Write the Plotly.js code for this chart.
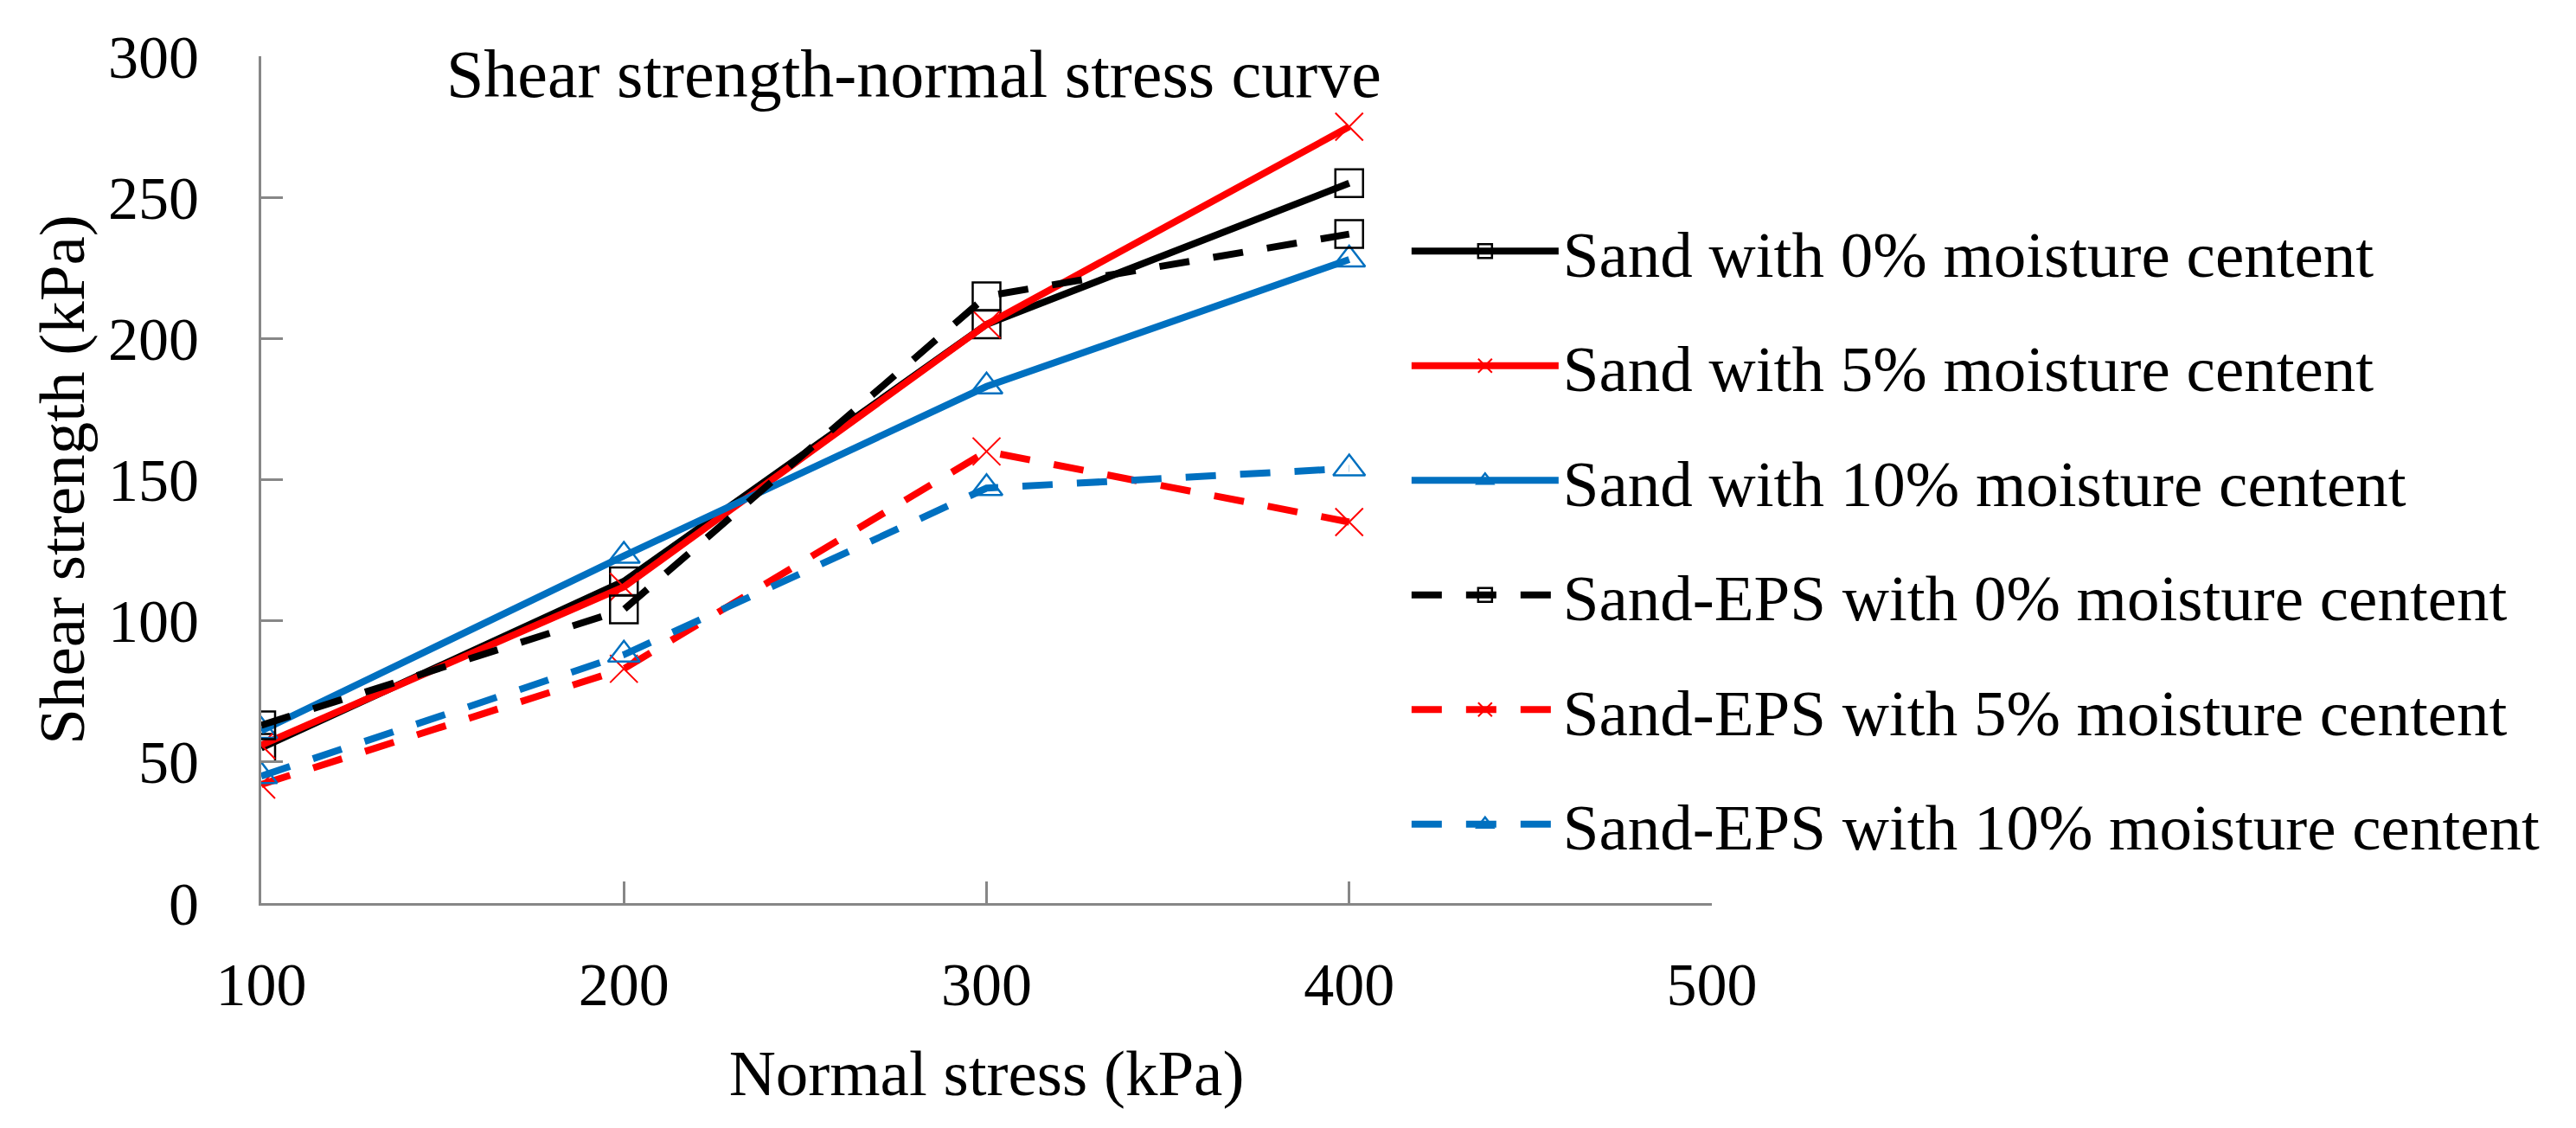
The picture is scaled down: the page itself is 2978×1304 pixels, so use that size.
<!DOCTYPE html>
<html>
<head>
<meta charset="utf-8">
<script src="https://cdn.plot.ly/plotly-3.0.1.min.js"></script>
<style>html,body{margin:0;padding:0;background:#fff;}#chart{width:2978px;height:1304px;}</style>
</head>
<body>
<div id="chart"></div>
<script>
const normalStress = [100, 200, 300, 400];
const sand0 = [55, 114, 205, 255];
const sand5 = [56, 112, 205, 275];
const sand10 = [61, 123, 183, 228];
const eps0 = [63, 104, 215, 237];
const eps5 = [42, 83, 160, 135];
const eps10 = [45, 88, 147, 154];
const seriesNames = [
  'Sand with 0% moisture centent',
  'Sand with 5% moisture centent',
  'Sand with 10% moisture centent',
  'Sand-EPS with 0% moisture centent',
  'Sand-EPS with 5% moisture centent',
  'Sand-EPS with 10% moisture centent'
];
const xTicks = [100, 200, 300, 400, 500];
const yTicks = [0, 50, 100, 150, 200, 250, 300];

const BLACK = '#000000', RED = '#FF0000', BLUE = '#0070C0';
const DASH = '35px,28px';
function tr(y, i, color, dash, symbol, mlw) {
  return {
    x: normalStress, y: y, name: seriesNames[i], type: 'scatter', mode: 'lines+markers',
    legendgroup: 'g' + i,
    line: {color: color, width: 8, dash: dash},
    marker: {symbol: symbol, size: 32, color: color, line: {color: color, width: mlw}}
  };
}
const data = [
  tr(sand0, 0, BLACK, 'solid', 'square-open', 2.5),
  tr(sand5, 1, RED, 'solid', 'x-thin-open', 2),
  tr(sand10, 2, BLUE, 'solid', 'triangle-up-open', 2.5),
  tr(eps0, 3, BLACK, DASH, 'square-open', 2.5),
  tr(eps5, 4, RED, DASH, 'x-thin-open', 2),
  tr(eps10, 5, BLUE, DASH, 'triangle-up-open', 2.5)
];
const FONT = 'Liberation Serif, Times New Roman, serif';
const layout = {
  width: 2978, height: 1304,
  paper_bgcolor: '#fff', plot_bgcolor: '#fff',
  margin: {l: 302, r: 999, t: 65, b: 260},
  font: {family: FONT, size: 72, color: '#000'},
  title: {text: 'Shear strength-normal stress curve', font: {family: FONT, size: 78, color: '#000'},
          xref: 'paper', x: 0.1276, xanchor: 'left', yref: 'container', y: 1 - 85/1304, yanchor: 'middle'},
  xaxis: {
    range: [100, 500], tickvals: xTicks, ticktext: xTicks.map(String),
    showgrid: false, zeroline: false, showline: true, linecolor: '#878787', linewidth: 3,
    ticks: 'inside', ticklen: 25, tickwidth: 3, tickcolor: '#878787',
    tickfont: {family: FONT, size: 70, color: '#000'}, ticklabelstandoff: 31,
    title: {text: 'Normal stress (kPa)', font: {family: FONT, size: 75, color: '#000'}, standoff: 38},
    automargin: false
  },
  yaxis: {
    range: [0, 300], tickvals: yTicks, ticktext: yTicks.map(String),
    showgrid: false, zeroline: false, showline: true, linecolor: '#878787', linewidth: 3,
    ticks: 'inside', ticklen: 25, tickwidth: 3, tickcolor: '#878787',
    tickfont: {family: FONT, size: 70, color: '#000'}, ticklabelstandoff: 55,
    title: {text: 'Shear strength (kPa)', font: {family: FONT, size: 75, color: '#000'}, standoff: 3},
    automargin: false
  },
  showlegend: true,
  legend: {
    x: 0.79, xanchor: 'left', y: 1 - (235 - 65) / 979, yanchor: 'top',
    font: {family: FONT, size: 75, color: '#000'},
    bgcolor: 'rgba(0,0,0,0)', borderwidth: 0,
    itemwidth: 170, tracegroupgap: 32, traceorder: 'grouped'
  }
};
Plotly.newPlot('chart', data, layout, {displayModeBar: false, staticPlot: true});
</script>
</body>
</html>
